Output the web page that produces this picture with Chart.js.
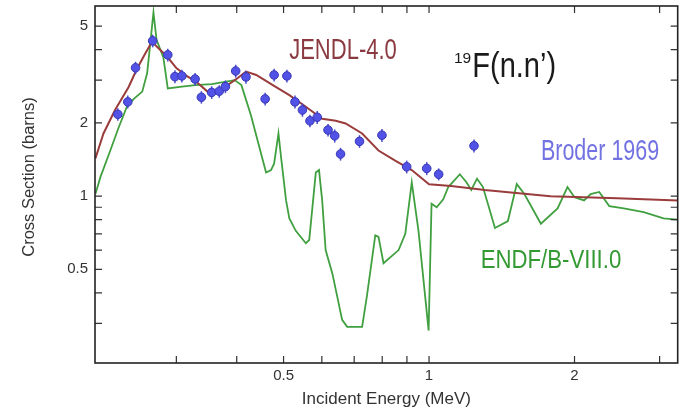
<!DOCTYPE html>
<html>
<head>
<meta charset="utf-8">
<script src="https://cdn.jsdelivr.net/npm/chart.js@4.4.1/dist/chart.umd.min.js"></script>
<style>
  html, body { margin: 0; padding: 0; background: #fff; }
  #wrap { width: 683px; height: 410px; }
</style>
</head>
<body>
<div id="wrap"><canvas id="xs19F" width="683" height="410"></canvas></div>
<script>
// Data (energy in MeV, cross section in barns)
var broderE = [0.227, 0.238, 0.247, 0.268, 0.288, 0.298, 0.308, 0.328, 0.338, 0.355, 0.368, 0.379, 0.398, 0.418, 0.458,
               0.478, 0.508, 0.528, 0.547, 0.567, 0.587, 0.618, 0.638, 0.656, 0.718, 0.799, 0.899, 0.989, 1.047, 1.239]
var broderXS = [2.17, 2.44, 3.37, 4.35, 3.81, 3.10, 3.12, 3.03, 2.55, 2.67, 2.70, 2.82, 3.27, 3.09, 2.51,
                3.15, 3.12, 2.44, 2.26, 2.04, 2.11, 1.87, 1.77, 1.49, 1.68, 1.78, 1.32, 1.30, 1.23, 1.61]
var broderErr = [0.13, 0.15, 0.20, 0.26, 0.23, 0.19, 0.19, 0.18, 0.15, 0.16, 0.16, 0.17, 0.20, 0.19, 0.15,
                 0.19, 0.19, 0.15, 0.14, 0.12, 0.13, 0.11, 0.11, 0.09, 0.10, 0.11, 0.08, 0.08, 0.07, 0.10]

var jendlE = [0.204, 0.212, 0.224, 0.239, 0.248, 0.257, 0.267, 0.287, 0.300, 0.315, 0.330, 0.348, 0.363, 0.381, 0.402, 0.418, 0.439,
              0.475, 0.514, 0.556, 0.601, 0.641, 0.672, 0.727, 0.786, 0.851, 0.921, 1.0, 1.111, 1.304, 1.784, 2.451, 3.27]
var jendlXS = [1.43, 1.81, 2.26, 2.81, 3.30, 3.77, 4.31, 3.75, 3.36, 3.12, 2.95, 2.69, 2.71, 2.84, 3.06, 3.25, 3.15,
               2.86, 2.60, 2.33, 2.08, 2.04, 1.99, 1.81, 1.54, 1.40, 1.28, 1.12, 1.10, 1.06, 1.00, 0.98, 0.96]

var endfE = [0.204, 0.209, 0.219, 0.228, 0.237, 0.245, 0.255, 0.261, 0.265, 0.269, 0.273, 0.282, 0.288, 0.308, 0.328, 0.355, 0.375, 0.396,
             0.409, 0.428, 0.460, 0.471, 0.478, 0.488, 0.494, 0.506, 0.514, 0.530, 0.556, 0.565, 0.583, 0.592, 0.601, 0.611, 0.631, 0.661,
             0.677, 0.727, 0.744, 0.774, 0.786, 0.805, 0.865, 0.893, 0.921, 0.951, 0.998, 1.012, 1.037, 1.070, 1.096, 1.158, 1.195, 1.223,
             1.257, 1.293, 1.369, 1.456, 1.519, 1.575, 1.704, 1.845, 1.934, 2.000, 2.093, 2.160, 2.250, 2.360, 2.529, 2.781, 3.057, 3.27]
var endfXS = [1.02, 1.20, 1.54, 1.92, 2.33, 2.51, 2.69, 3.20, 4.26, 5.70, 4.39, 3.72, 2.77, 2.82, 2.86, 2.89, 2.94, 3.00,
              2.86, 2.15, 1.25, 1.28, 1.36, 1.81, 1.45, 0.96, 0.81, 0.72, 0.64, 0.66, 1.25, 1.28, 0.96, 0.60, 0.48, 0.31,
              0.29, 0.29, 0.39, 0.69, 0.68, 0.53, 0.60, 0.70, 1.14, 0.72, 0.28, 0.93, 0.90, 0.97, 1.09, 1.23, 1.14, 1.06,
              1.18, 1.09, 0.74, 0.79, 1.12, 1.02, 0.77, 0.89, 1.09, 0.99, 0.96, 1.02, 1.04, 0.91, 0.89, 0.86, 0.81, 0.80]

// Axes
var xTicks = [0.3, 0.4, 0.5, 0.6, 0.7, 0.8, 0.9, 1, 2, 3]
var xLabels = [0.5, 1, 2]
var yTicks = [0.3, 0.4, 0.5, 0.6, 0.7, 0.8, 0.9, 1, 2, 3, 4, 5]
var yLabels = [0.5, 1, 2, 5]

var FONT = '"Liberation Sans", Arial, Helvetica, sans-serif'

function points(xs, ys) {
    var out = []
    for (let i = 0; i < xs.length; i++) {
        out.push({x: xs[i], y: ys[i]})
    }
    return out
}

function setTicks(list) {
    return function(scale) {
        scale.ticks = list.map(function(v) { return {value: v} })
    }
}

function tickText(list) {
    return function(value) {
        return list.indexOf(value) >= 0 ? String(value) : ''
    }
}

// error bars under the Broder points
var errorBars = {
    id: 'errorBars',
    beforeDatasetDraw: function(chart, args) {
        if (args.index !== 0) return
        var ctx = chart.ctx
        var xs = chart.scales.x, ys = chart.scales.y
        ctx.save()
        ctx.strokeStyle = '#4a4ad0'
        ctx.lineWidth = 1.5
        for (let i = 0; i < broderE.length; i++) {
            var px = xs.getPixelForValue(broderE[i])
            ctx.beginPath()
            ctx.moveTo(px, ys.getPixelForValue(broderXS[i] - broderErr[i]))
            ctx.lineTo(px, ys.getPixelForValue(broderXS[i] + broderErr[i]))
            ctx.stroke()
        }
        ctx.restore()
    }
}

// box, inward ticks, text labels
var frame = {
    id: 'frame',
    afterDraw: function(chart) {
        var ctx = chart.ctx, a = chart.chartArea
        var xs = chart.scales.x, ys = chart.scales.y
        ctx.save()
        ctx.strokeStyle = '#333'
        ctx.lineWidth = 1.2
        ctx.beginPath()
        xTicks.forEach(function(v) {
            var px = xs.getPixelForValue(v)
            ctx.moveTo(px, a.bottom); ctx.lineTo(px, a.bottom - 7)
            ctx.moveTo(px, a.top); ctx.lineTo(px, a.top + 7)
        })
        yTicks.forEach(function(v) {
            var py = ys.getPixelForValue(v)
            ctx.moveTo(a.left, py); ctx.lineTo(a.left + 7, py)
            ctx.moveTo(a.right, py); ctx.lineTo(a.right - 7, py)
        })
        ctx.stroke()
        ctx.strokeStyle = '#222'
        ctx.lineWidth = 1.6
        ctx.strokeRect(a.left, a.top, a.right - a.left, a.bottom - a.top)

        function label(text, e, s, size, stretch, color) {
            ctx.save()
            ctx.translate(xs.getPixelForValue(e), ys.getPixelForValue(s))
            ctx.scale(1, stretch)
            ctx.font = size + 'px ' + FONT
            ctx.fillStyle = color
            ctx.textAlign = 'left'
            ctx.textBaseline = 'alphabetic'
            ctx.fillText(text, 0, 0)
            ctx.restore()
        }
        label('JENDL-4.0', 0.5136, 3.654, 22, 1.33, '#8b3a42')
        label('19', 1.126, 3.518, 15.5, 1.0, '#1a1a1a')
        label('F(n.n\u2019)', 1.229, 3.097, 29, 1.2, '#1a1a1a')
        label('Broder 1969', 1.704, 1.402, 21.5, 1.38, '#7272e2')
        label('ENDF/B-VIII.0', 1.279, 0.508, 22.2, 1.2, '#339933')

        // y axis title
        ctx.save()
        ctx.translate(29.5, 177)
        ctx.rotate(-Math.PI / 2)
        ctx.font = '16.5px ' + FONT
        ctx.fillStyle = '#333'
        ctx.textAlign = 'center'
        ctx.textBaseline = 'middle'
        ctx.fillText('Cross Section (barns)', 0, 0)
        ctx.restore()
        ctx.restore()
    }
}

var ctx = document.getElementById('xs19F').getContext('2d')
var xsChart = new Chart(ctx, {
    type: 'scatter',
    data: {
        datasets: [{
            label: 'Broder 1969',
            data: points(broderE, broderXS),
            pointRadius: 4.3,
            pointBackgroundColor: '#5252e6',
            pointBorderColor: '#3636b4',
            pointBorderWidth: 1,
            showLine: false
        }, {
            label: 'JENDL-4.0',
            data: points(jendlE, jendlXS),
            showLine: true,
            borderColor: '#9a3c3c',
            borderWidth: 2,
            pointRadius: 0,
            tension: 0
        }, {
            label: 'ENDF/B-VIII.0',
            data: points(endfE, endfXS),
            showLine: true,
            borderColor: '#40a040',
            borderWidth: 1.8,
            pointRadius: 0,
            tension: 0
        }]
    },
    options: {
        responsive: false,
        animation: false,
        layout: {padding: {top: 6, right: 2, left: 0, bottom: 0}},
        plugins: {legend: {display: false}, tooltip: {enabled: false}},
        scales: {
            x: {
                type: 'logarithmic',
                min: 0.2036,
                max: 3.27,
                afterBuildTicks: setTicks(xTicks),
                afterFit: function(scale) {
                    scale.height = 47
                    scale.paddingLeft = 0
                    scale.paddingRight = 0
                },
                grid: {display: false, drawTicks: false},
                border: {display: false},
                ticks: {
                    autoSkip: false,
                    maxRotation: 0,
                    padding: 4,
                    color: '#333',
                    font: {family: FONT, size: 15},
                    callback: tickText(xLabels)
                },
                title: {
                    display: true,
                    text: 'Incident Energy (MeV)',
                    color: '#333',
                    font: {family: FONT, size: 17},
                    padding: {top: 0, bottom: 0}
                }
            },
            y: {
                type: 'logarithmic',
                min: 0.206,
                max: 6.05,
                afterBuildTicks: setTicks(yTicks),
                afterFit: function(scale) {
                    scale.width = 95
                    scale.paddingTop = 0
                    scale.paddingBottom = 0
                },
                grid: {display: false, drawTicks: false},
                border: {display: false},
                ticks: {
                    autoSkip: false,
                    padding: 7,
                    color: '#333',
                    font: {family: FONT, size: 15},
                    callback: tickText(yLabels)
                }
            }
        }
    },
    plugins: [errorBars, frame]
})
</script>
</body>
</html>
